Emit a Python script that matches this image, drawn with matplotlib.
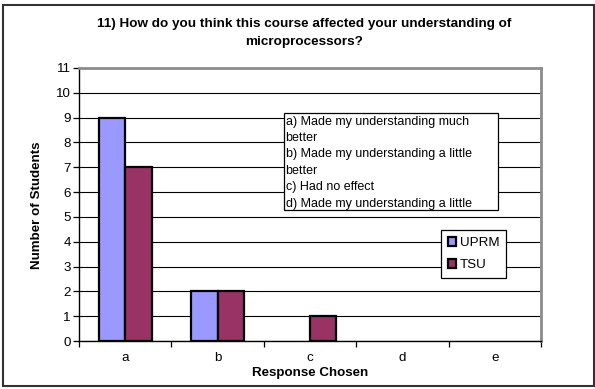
import matplotlib
matplotlib.use("Agg")
import matplotlib.pyplot as plt
import matplotlib.patches as mpatches
import numpy as np

plt.rcParams['font.family'] = ['Liberation Sans', 'DejaVu Sans']

categories = ['a', 'b', 'c', 'd', 'e']
uprm = [9, 2, 0, 0, 0]
tsu = [7, 2, 1, 0, 0]
series_names = ['UPRM', 'TSU']
colors = ['#9999FF', '#993366']
title = '11) How do you think this course affected your understanding of\nmicroprocessors?'
note_lines = ['a) Made my understanding much', 'better',
              'b) Made my understanding a little', 'better',
              'c) Had no effect', 'd) Made my understanding a little']

W, H = 595, 389
fig = plt.figure(figsize=(W / 100, H / 100), dpi=100)

def fx(px):
    return px / W

def fy(py):
    return 1 - py / H

FS = 9.6
L, R, T, B = 79, 541, 68, 341
ax = fig.add_axes([fx(L), fy(B), fx(R - L), (B - T) / H])

x = np.arange(len(categories))
bw = 0.2857
b1 = ax.bar(x - bw / 2, uprm, bw, color=colors[0], edgecolor='black', linewidth=1.6, label=series_names[0], zorder=3)
b2 = ax.bar(x + bw / 2, tsu, bw, color=colors[1], edgecolor='black', linewidth=1.6, label=series_names[1], zorder=3)
for p in list(b1) + list(b2):
    if p.get_height() == 0:
        p.set_visible(False)

ax.set_xlim(-0.5, len(categories) - 0.5)
ax.set_ylim(0, 11)
ax.set_yticks(range(0, 12))
ax.yaxis.grid(True, color='black', linewidth=0.8, zorder=0)
ax.set_axisbelow(True)

ax.set_xticks(np.arange(-0.5, len(categories), 1.0))
ax.set_xticklabels([])
ax.set_xticks(x, minor=True)
ax.set_xticklabels(categories, minor=True)
ax.tick_params(axis='x', which='major', length=4, width=0.9, direction='out', color='black')
ax.tick_params(axis='x', which='minor', length=0, labelsize=FS, pad=8)
ax.tick_params(axis='y', length=4, width=0.9, labelsize=FS, pad=2)

for s in ['top', 'right']:
    ax.spines[s].set_color('#8c8c8c')
    ax.spines[s].set_linewidth(2)
for s in ['left', 'bottom']:
    ax.spines[s].set_color('black')
    ax.spines[s].set_linewidth(1.0)

fig.text(fx(304), fy(33), title, ha='center', va='center', fontsize=9.7, fontweight='bold', linespacing=1.6)
fig.text(fx(37), fy(205), 'Number of Students', rotation=90, ha='center', va='center', fontsize=FS, fontweight='bold')
fig.text(fx(310), fy(373), 'Response Chosen', ha='center', va='center', fontsize=FS, fontweight='bold')

# note text box
bx0, by0, bx1, by1 = 284, 113, 498, 210
fig.patches.append(mpatches.Rectangle((fx(bx0), fy(by1)), fx(bx1 - bx0), (by1 - by0) / H,
                                      transform=fig.transFigure, facecolor='white',
                                      edgecolor='black', linewidth=0.9, zorder=5))
for i, line in enumerate(note_lines):
    fig.text(fx(bx0 + 1.5), fy(by0 + 8.5 + i * 16.5), line, ha='left', va='center', fontsize=9, zorder=6)

# series legend
leg = ax.legend(loc='upper left', bbox_to_anchor=(fx(441), fy(230)), bbox_transform=fig.transFigure,
                fontsize=FS, frameon=True, fancybox=False, edgecolor='black', framealpha=1,
                handlelength=0.65, handleheight=0.65, handletextpad=0.25, borderpad=0.5,
                labelspacing=0.75, borderaxespad=0)
leg.get_frame().set_linewidth(0.9)
for h in leg.legend_handles:
    h.set_linewidth(1.6)

# outer border
fig.patches.append(mpatches.Rectangle((fx(2.5), fy(385.5)), fx(591), (385.5 - 4.5) / H,
                                      transform=fig.transFigure, facecolor='none',
                                      edgecolor='#333333', linewidth=1.5, zorder=10))

fig.savefig('out.png', dpi=100)
